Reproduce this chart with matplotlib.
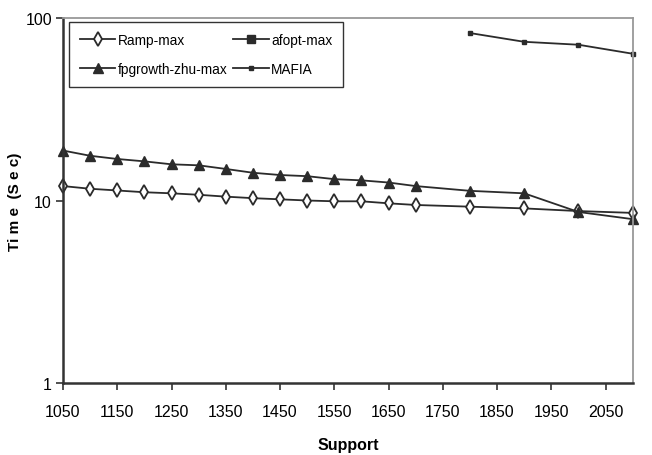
import matplotlib
matplotlib.use("Agg")
import matplotlib.pyplot as plt
from matplotlib.ticker import FixedLocator, NullLocator, FixedFormatter

plt.rcParams['font.family'] = ['Liberation Sans Narrow', 'Liberation Sans', 'DejaVu Sans']

support = [1050, 1100, 1150, 1200, 1250, 1300, 1350, 1400, 1450, 1500, 1550,
           1600, 1650, 1700, 1800, 1900, 2000, 2100]
ramp_max = [12.0, 11.6, 11.35, 11.1, 10.95, 10.75, 10.5, 10.3, 10.15, 10.0, 9.9,
            9.9, 9.65, 9.45, 9.25, 9.05, 8.75, 8.55]
fpgrowth_max = [18.8, 17.6, 16.9, 16.4, 15.8, 15.6, 14.9, 14.2, 13.8, 13.6, 13.1,
                12.9, 12.55, 12.0, 11.3, 10.95, 8.65, 7.9]
afopt_support = []
afopt_max = []
mafia_support = [1800, 1900, 2000, 2100]
mafia = [83.0, 74.3, 71.6, 63.9]

xticks = [1050, 1150, 1250, 1350, 1450, 1550, 1650, 1750, 1850, 1950, 2050]
yticks = [1, 10, 100]
ytick_labels = ['1', '10', '100']

fig = plt.figure(figsize=(6.52, 4.56), dpi=100)
ax = fig.add_axes([63/652, 1-383.7/456, (632.7-63)/652, (383.7-19.3)/456])

lc = '#2b2b2b'
h_ramp, = ax.plot(support, ramp_max, color=lc, lw=1.3, marker='d', ms=7,
                  mfc='white', mec=lc, mew=1.3, clip_on=False, label='Ramp-max')
h_fp, = ax.plot(support, fpgrowth_max, color=lc, lw=1.3, marker='^', ms=7,
                mfc=lc, mec=lc, clip_on=False, label='fpgrowth-zhu-max')
h_af, = ax.plot(afopt_support, afopt_max, color=lc, lw=1.3, marker='s', ms=6,
                mfc=lc, mec=lc, clip_on=False, label='afopt-max')
h_maf, = ax.plot(mafia_support, mafia, color=lc, lw=1.3, marker='s', ms=3,
                 mfc=lc, mec=lc, clip_on=False, label='MAFIA')

ax.set_yscale('log')
ax.set_xlim(1050, 2100)
ax.set_ylim(1, 100)
ax.xaxis.set_major_locator(FixedLocator(xticks))
ax.xaxis.set_minor_locator(NullLocator())
ax.yaxis.set_major_locator(FixedLocator(yticks))
ax.yaxis.set_major_formatter(FixedFormatter(ytick_labels))
ax.yaxis.set_minor_locator(NullLocator())
ax.tick_params(axis='both', direction='out', length=5, width=1.2, color='#333333',
               labelsize=11.5, pad=10)
ax.tick_params(axis='y', pad=3)

for s in ['left', 'bottom']:
    ax.spines[s].set_color('#333333')
    ax.spines[s].set_linewidth(1.8)
for s in ['top', 'right']:
    ax.spines[s].set_color('#999999')
    ax.spines[s].set_linewidth(1.3)

ax.set_xlabel('Support', fontsize=11.5, fontweight='bold', labelpad=13)
ax.set_ylabel('Ti m e  (S e c)', fontsize=11, fontweight='bold')
ax.yaxis.set_label_coords(-0.072, 0.5)

leg = ax.legend(handles=[h_ramp, h_fp, h_af, h_maf], ncol=2, loc='upper left',
                bbox_to_anchor=(6/569.7, 1-4/364.4), borderaxespad=0,
                frameon=True, fancybox=False,
                edgecolor='black', fontsize=9.8, handlelength=2.6, handletextpad=0.2,
                columnspacing=0.4, labelspacing=1.1, borderpad=0.8)
leg.get_frame().set_linewidth(1.0)

fig.savefig('out.png', dpi=100)
